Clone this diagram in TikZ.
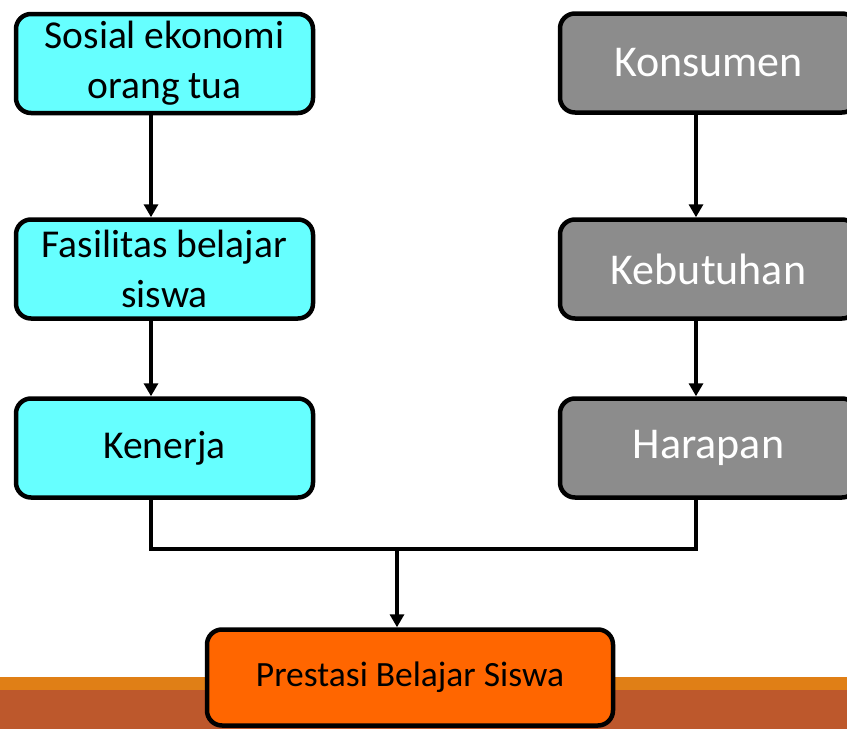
\documentclass[tikz,border=0pt]{standalone}
\usepackage{fontspec}
\setmainfont{Carlito}
\usetikzlibrary{arrows.meta}
\definecolor{boxcyan}{HTML}{66FFFF}
\definecolor{boxgray}{HTML}{8C8C8C}
\definecolor{boxorange}{HTML}{FF6600}
\definecolor{bandorange}{HTML}{E07F16}
\definecolor{banddark}{HTML}{BD582C}
\tikzset{
  basebox/.style={rectangle, rounded corners=15pt, line width=4.5pt, draw=black, inner sep=0pt, align=center},
  leftbox/.style={basebox, fill=boxcyan, minimum width=297pt, minimum height=99pt, font=\fontsize{39.5}{50}\selectfont},
  rightbox/.style={basebox, fill=boxgray, text=white, minimum width=297pt, minimum height=99pt, font=\fontsize{44}{50}\selectfont},
  bottombox/.style={basebox, fill=boxorange, minimum width=406pt, minimum height=96pt, font=\fontsize{35.5}{42}\selectfont},
  conn/.style={line width=3.8pt, draw=black},
  arr/.style={conn, -{Triangle[length=13pt,width=14pt]}}
}
\begin{document}
\begin{tikzpicture}[x=1pt,y=-1pt]
\useasboundingbox (0,0) rectangle (847,729);
\fill[white] (0,0) rectangle (847,729);
\fill[bandorange] (0,677) rectangle (847,690);
\fill[banddark] (0,690) rectangle (847,729);

\node[leftbox] (sosial) at (164.5,63.5) {Sosial ekonomi\\orang tua};
\node[leftbox] (fasil) at (164.5,269) {Fasilitas belajar\\siswa};
\node[leftbox] (kenerja) at (164.5,448) {Kenerja};

\node[rightbox] (konsumen) at (708.5,63) {Konsumen};
\node[rightbox] (kebutuhan) at (708.5,269) {Kebutuhan};
\node[rightbox] (harapan) at (708.5,448) {Harapan};

\node[bottombox] (prestasi) at (410,677.5) {Prestasi Belajar Siswa};

\coordinate (L) at (151,0);
\coordinate (R) at (696,0);
\coordinate (J) at (397,549);

\draw[arr] (sosial.south -| L) -- (fasil.north -| L);
\draw[arr] (fasil.south -| L) -- (kenerja.north -| L);
\draw[arr] (konsumen.south -| R) -- (kebutuhan.north -| R);
\draw[arr] (kebutuhan.south -| R) -- (harapan.north -| R);

\draw[conn] (kenerja.south -| L) -- (L |- J) -- (R |- J) -- (harapan.south -| R);
\draw[arr] (J) -- (prestasi.north -| J);
\end{tikzpicture}
\end{document}
